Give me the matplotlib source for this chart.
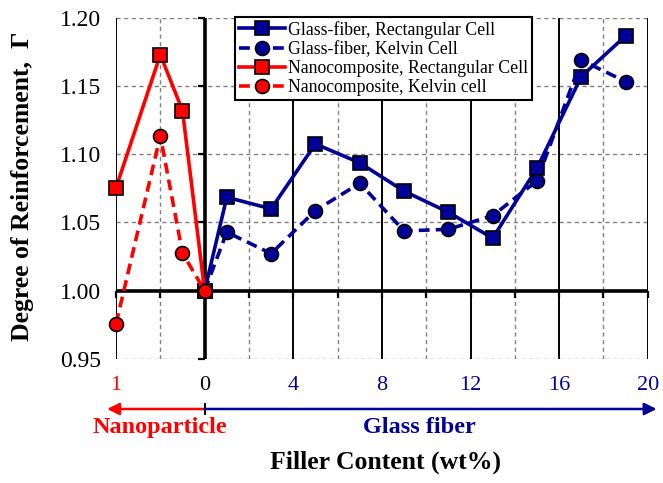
import matplotlib.pyplot as plt
import matplotlib.markers as mk

plt.rcParams['font.family'] = ['Liberation Serif', 'DejaVu Serif']

# data
nano_x = [-4, -2, -1, 0]
nano_rect = [1.0755, 1.173, 1.132, 1.000]
nano_kelvin = [0.9757, 1.1135, 1.0275, 1.000]

glass_x = [0, 1, 3, 5, 7, 9, 11, 13, 15, 17, 19]
glass_rect = [1.000, 1.0685, 1.060, 1.1076, 1.0937, 1.073, 1.0575, 1.0385, 1.0898, 1.157, 1.1868]
glass_kelvin = [1.000, 1.0429, 1.0272, 1.0587, 1.0788, 1.0438, 1.045, 1.055, 1.0805, 1.169, 1.1533]

xticks = [-4, 0, 4, 8, 12, 16, 20]
xticklabels = ['1', '0', '4', '8', '12', '16', '20']
yticks = [0.95, 1.00, 1.05, 1.10, 1.15, 1.20]

navy = '#000099'
red = '#ff0000'

fig = plt.figure(figsize=(6.63, 4.83), dpi=100)
ax = fig.add_axes([0.175, 0.257, 0.802, 0.706])
ax.set_xlim(-4, 20)
ax.set_ylim(0.95, 1.20)
for s in ax.spines.values():
    s.set_visible(False)

# grid: dashed minor, solid major verticals
for x in [-2, 2, 6, 10, 14, 18]:
    ax.axvline(x, color='gray', ls=(0, (3, 2.5)), lw=1.0, zorder=1)
for y in [0.95, 1.05, 1.10, 1.15, 1.20]:
    ax.axhline(y, color='gray', ls=(0, (3, 2.5)), lw=1.0, zorder=1)
for x in [-4, 4, 8, 12, 16, 20]:
    ax.axvline(x, color='black', lw=1.4, zorder=1)
ax.axvline(0, color='black', lw=2.6, zorder=2)
ax.axhline(1.0, color='black', lw=2.6, zorder=2)

# small ticks on the crossing axes
tx = list(range(-4, 21, 2))
ax.plot(tx, [1.0] * len(tx), ls='none', marker=mk.TICKDOWN, ms=5, mew=1.6, color='black', zorder=2,
        clip_on=False)
ax.plot([0] * len(yticks), yticks, ls='none', marker=mk.TICKLEFT, ms=5, mew=1.6, color='black', zorder=2,
        clip_on=False)

ax.set_xticks(xticks)
ax.set_xticklabels(xticklabels)
ax.set_yticks(yticks)
ax.set_yticklabels(['%.2f' % v for v in yticks])
ax.tick_params(axis='both', length=0)
ax.tick_params(axis='y', pad=11, labelsize=17)
ax.tick_params(axis='x', pad=12, labelsize=16)
for lbl, c in zip(ax.get_xticklabels(), [red, 'black'] + [navy] * 5):
    lbl.set_color(c)

ms = 10
lw = 2.6
ax.plot(glass_x, glass_rect, '-', color=navy, lw=lw, marker='s', ms=ms, mec='black', mew=1.2,
        label='Glass-fiber, Rectangular Cell', zorder=4, clip_on=False)
ax.plot(glass_x, glass_kelvin, '--', color=navy, lw=lw, marker='o', ms=ms, mec='black', mew=1.2,
        dashes=(3, 1.7), label='Glass-fiber, Kelvin Cell', zorder=4, clip_on=False)
ax.plot(nano_x, nano_rect, '-', color=red, lw=lw, marker='s', ms=ms, mec='black', mew=1.2,
        label='Nanocomposite, Rectangular Cell', zorder=5, clip_on=False)
ax.plot(nano_x, nano_kelvin, '--', color=red, lw=lw, marker='o', ms=ms, mec='black', mew=1.2,
        dashes=(3, 1.7), label='Nanocomposite, Kelvin cell', zorder=5, clip_on=False)

leg = ax.legend(loc='upper left', bbox_to_anchor=(0.224, 1.002), fontsize=12.8, frameon=True,
                fancybox=False, edgecolor='black', framealpha=1, borderpad=0.2,
                labelspacing=0.12, handlelength=2.6, handletextpad=0.2, borderaxespad=0)
leg.get_frame().set_linewidth(1.5)
leg.set_zorder(10)

# arrows below the axis
ax.annotate('', xy=(-4.4, -0.147), xytext=(0, -0.147), xycoords=('data', 'axes fraction'),
            textcoords=('data', 'axes fraction'), annotation_clip=False,
            arrowprops=dict(arrowstyle='-|>', color=red, lw=1.8, mutation_scale=18, shrinkA=0, shrinkB=0))
ax.annotate('', xy=(20.4, -0.147), xytext=(0, -0.147), xycoords=('data', 'axes fraction'),
            textcoords=('data', 'axes fraction'), annotation_clip=False,
            arrowprops=dict(arrowstyle='-|>', color=navy, lw=1.8, mutation_scale=18, shrinkA=0, shrinkB=0))
ax.plot([0, 0], [-0.132, -0.162], color='black', lw=1.4, transform=ax.get_xaxis_transform(), clip_on=False)
ax.text(-2.0, -0.201, 'Nanoparticle', color=red, fontsize=17.5, fontweight='bold', ha='center', va='center',
        transform=ax.get_xaxis_transform())
ax.text(9.67, -0.201, 'Glass fiber', color=navy, fontsize=17.5, fontweight='bold', ha='center', va='center',
        transform=ax.get_xaxis_transform())

fig.text(386 / 663, 1 - 462 / 483, 'Filler Content (wt%)', fontsize=18.5, fontweight='bold',
         ha='center', va='center')
fig.text(23 / 663, 1 - 186 / 483, 'Degree of Reinforcement,  Γ', fontsize=18.5, fontweight='bold',
         ha='center', va='center', rotation=90)

fig.savefig('out.png', dpi=100)
